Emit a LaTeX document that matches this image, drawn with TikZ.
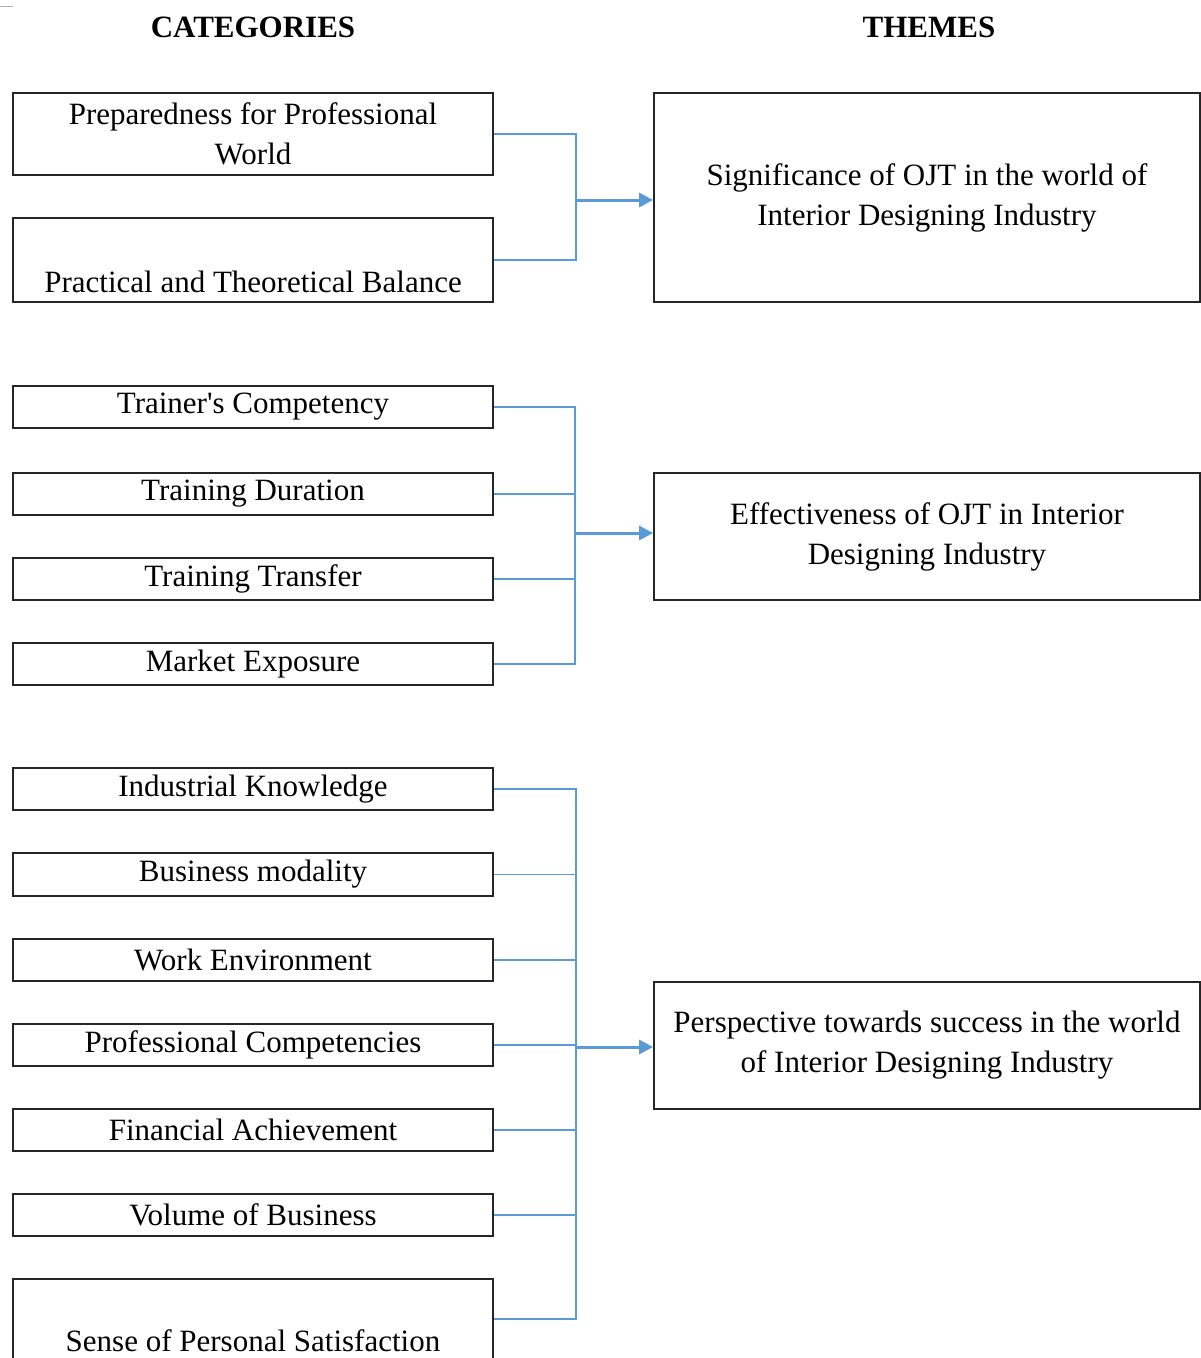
\documentclass[tikz,border=0pt]{standalone}
\usepackage{fontspec}
\newfontfamily\plainserif{Liberation Serif}
\usetikzlibrary{arrows.meta}
\definecolor{connblue}{HTML}{5B9BD5}
\tikzset{
  box/.style={draw=black!85, line width=1.8pt, inner sep=0pt, align=center,
    font=\plainserif\fontsize{31}{40}\selectfont},
  catbox/.style={box, minimum width=480pt},
  themebox/.style={box, minimum width=546pt},
  lbl/.style={inner sep=0pt, font=\plainserif\fontsize{31}{40}\selectfont},
  head/.style={font=\plainserif\fontsize{31}{36}\selectfont\bfseries, inner sep=0pt},
  conn/.style={draw=connblue, line width=1.8pt},
  arr/.style={draw=connblue, line width=3pt, -{Triangle[length=14pt,width=14pt]}}
}
\begin{document}
\begin{tikzpicture}[x=1pt,y=-1pt]
\useasboundingbox (0,0) rectangle (1201,1358);
\clip (0,0) rectangle (1201,1358);
\fill[white] (0,0) rectangle (1201,1358);
\draw[gray!60, line width=1pt] (0,6) -- (13,6);
% headings
\node[head] (hc) at (253,27) {CATEGORIES};
\node[head] (ht) at (929,27) {THEMES};
% category boxes
\node[catbox, minimum height=82pt] (c1) at (253,134) {Preparedness for Professional\\World};
\node[catbox, minimum height=84pt] (c2) at (253,260) {};
\node[lbl] (c2t) at (253,282) {Practical and Theoretical Balance};
\node[catbox, minimum height=42pt] (c3) at (253,407) {Trainer's Competency};
\node[catbox, minimum height=42pt] (c4) at (253,494) {Training Duration};
\node[catbox, minimum height=42pt] (c5) at (253,579) {Training Transfer};
\node[catbox, minimum height=42pt] (c6) at (253,664) {Market Exposure};
\node[catbox, minimum height=42pt] (c7) at (253,789) {Industrial Knowledge};
\node[catbox, minimum height=43pt] (c8) at (253,874.5) {Business modality};
\node[catbox, minimum height=42pt] (c9) at (253,960) {Work Environment};
\node[catbox, minimum height=42pt] (c10) at (253,1045) {Professional Competencies};
\node[catbox, minimum height=42pt] (c11) at (253,1130) {Financial Achievement};
\node[catbox, minimum height=42pt] (c12) at (253,1215) {Volume of Business};
\node[catbox, minimum height=84pt] (c13) at (253,1321) {};
\node[lbl] (c13t) at (253,1341) {Sense of Personal Satisfaction};
% theme boxes
\node[themebox, minimum height=209pt] (t1) at (927,197.5) {Significance of OJT in the world of\\Interior Designing Industry};
\node[themebox, minimum height=127pt] (t2) at (927,536.5) {Effectiveness of OJT in Interior\\Designing Industry};
\node[themebox, minimum height=127pt] (t3) at (927,1045.5) {Perspective towards success in the world\\of Interior Designing Industry};
% junctions
\coordinate (j1) at (576,200);
\coordinate (j2) at (575,533);
\coordinate (j3) at (576,1047);
% connectors group 1
\draw[conn] (c1.east) -| (j1);
\draw[conn] (c2.east) -| (j1);
\draw[arr] (j1) -- (j1 -| t1.west);
% group 2
\foreach \n in {c3,c4,c5,c6} \draw[conn] (\n.east) -| (j2);
\draw[arr] (j2) -- (j2 -| t2.west);
% group 3
\foreach \n in {c7,c8,c9,c10,c11,c12} \draw[conn] (\n.east) -| (j3);
\draw[conn] (c13.east) ++(0,-2) -| (j3);
\draw[arr] (j3) -- (j3 -| t3.west);
\end{tikzpicture}
\end{document}
